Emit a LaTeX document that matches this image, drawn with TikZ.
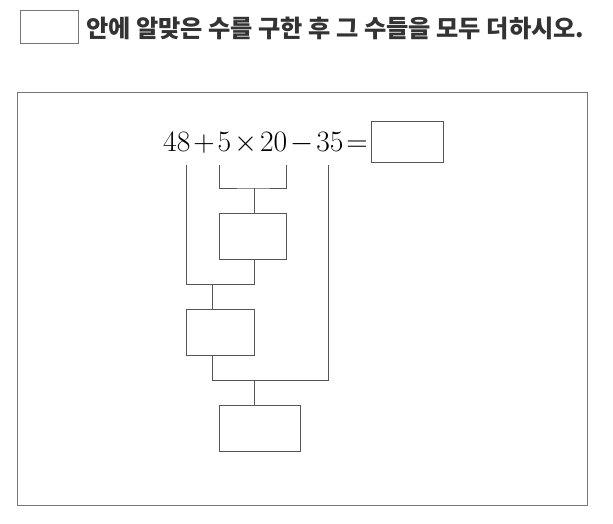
\documentclass[tikz,border=0pt]{standalone}
\usepackage{fontspec}
\usepackage{amsmath}
\newfontfamily\kor{Noto Sans CJK KR}
\definecolor{linegray}{HTML}{555555}
\definecolor{framegray}{HTML}{777777}
\definecolor{textgray}{HTML}{333333}

\tikzset{
  ansbox/.style={draw=linegray, line width=0.9pt, inner sep=0pt},
  conn/.style={draw=linegray, line width=0.9pt}
}

\begin{document}
\begin{tikzpicture}[x=1pt,y=-1pt]

	\useasboundingbox (0,0) rectangle (613,524);

	% question
	\node[ansbox, draw=framegray, minimum width=58pt, minimum height=33pt] (hbox) at (49,26.5) {};
	\node[anchor=base west, text=textgray, inner sep=0pt] (title) at (86,37.5)
		{\kor\bfseries\fontsize{24.2}{28}\selectfont 안에 알맞은 수를 구한 후 그 수들을 모두 더하시오.};

	% frame
	\draw[framegray, line width=0.8pt] (17,92) rectangle (587,505);

	% expression
	\node[anchor=base west, inner sep=0pt, scale=1.19] (expr) at (163,151)
		{\fontsize{24.88}{30}\selectfont\medmuskip=1.8mu\thickmuskip=1.8mu $48+5\times20-35=$};
	\node[ansbox, minimum width=71.5pt, minimum height=41pt] (res) at (407.2,142) {};

	\node[ansbox, minimum width=67pt, minimum height=46pt] (mul) at (252.8,236.3) {};
	\node[ansbox, minimum width=68.3pt, minimum height=46pt] (add) at (220.1,332) {};
	\node[ansbox, minimum width=81.4pt, minimum height=45.7pt] (sub) at (260,428.1) {};

	\coordinate (t48) at (186,165);
	\coordinate (t5) at (219,165);
	\coordinate (t20) at (286,165);
	\coordinate (t35) at (328,165);
	\coordinate (j1) at (254,188);
	\coordinate (j2) at (212,284);
	\coordinate (j3) at (254,380);

	\draw[conn] (t5) |- (j1) -| (t20);
	\draw[conn] (j1) -- (j1 |- mul.north);
	\draw[conn] (t48) |- (j2 -| j1) -- (mul.south -| j1);
	\draw[conn] (j2) -- (j2 |- add.north);
	\draw[conn] (add.south -| j2) |- (j3 -| t35) -- (t35);
	\draw[conn] (j3) -- (j3 |- sub.north);

\end{tikzpicture}
\end{document}
